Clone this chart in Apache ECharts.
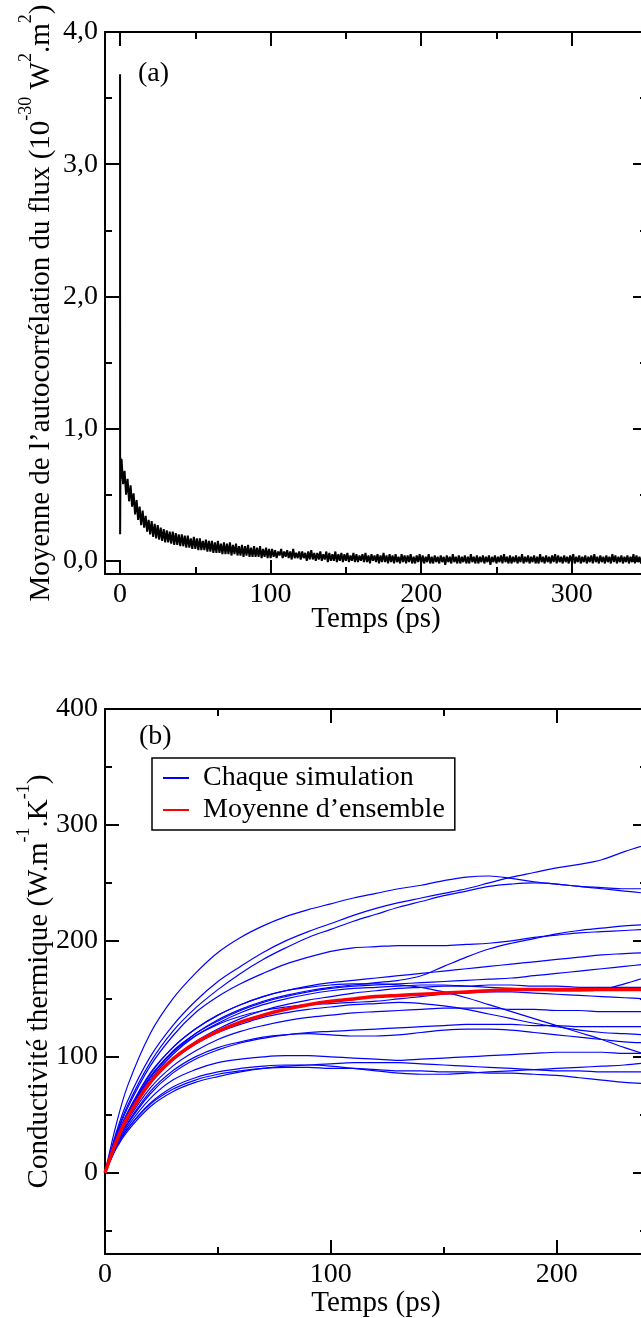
<!DOCTYPE html>
<html>
<head>
<meta charset="utf-8">
<script src="https://cdn.jsdelivr.net/npm/echarts@6/dist/echarts.min.js"></script>
<style>
  html, body { margin: 0; padding: 0; background: #fff; }
  #chart { width: 641px; height: 1318px; }
</style>
</head>
<body>
<div id="chart"></div>
<script>
// ---------- (a) heat-flux autocorrelation (10^-30 W^2.m^2) vs time (ps) ----------
// initial spike at t = 0, then one sample per ps
const acfHeadTime  = [0, 0.05, 0.3, 0.6];
const acfHeadValue = [3.68, 0.2, 0.78, 0.62];
const acfStartTime = 1;
const acfStep = 1;
const acfValues = [
  0.77, 0.58, 0.68, 0.50, 0.62, 0.45, 0.57, 0.41, 0.51, 0.35,
  0.46, 0.31, 0.41, 0.27, 0.38, 0.25, 0.34, 0.22, 0.31, 0.20,
  0.30, 0.18, 0.28, 0.17, 0.27, 0.16, 0.25, 0.15, 0.24, 0.14,
  0.23, 0.14, 0.22, 0.13, 0.22, 0.12, 0.21, 0.12, 0.20, 0.11,
  0.20, 0.11, 0.19, 0.10, 0.19, 0.10, 0.17, 0.09, 0.18, 0.09,
  0.17, 0.08, 0.17, 0.08, 0.15, 0.08, 0.16, 0.07, 0.15, 0.07,
  0.15, 0.06, 0.14, 0.06, 0.15, 0.06, 0.13, 0.05, 0.14, 0.05,
  0.13, 0.05, 0.14, 0.04, 0.12, 0.05, 0.13, 0.04, 0.11, 0.04,
  0.12, 0.03, 0.11, 0.04, 0.12, 0.03, 0.10, 0.03, 0.11, 0.03,
  0.10, 0.03, 0.11, 0.02, 0.09, 0.03, 0.10, 0.02, 0.09, 0.02,
  0.09, 0.03, 0.08, 0.02, 0.07, 0.04, 0.09, 0.02, 0.07, 0.03,
  0.08, 0.02, 0.07, 0.01, 0.09, 0.02, 0.06, 0.02, 0.07, 0.01,
  0.07, 0.02, 0.06, 0.00, 0.07, 0.01, 0.08, 0.01, 0.06, 0.00,
  0.06, 0.01, 0.07, 0.00, 0.05, 0.01, 0.07, -0.01, 0.06, 0.00,
  0.05, 0.00, 0.07, -0.01, 0.05, 0.00, 0.06, -0.01, 0.05, 0.00,
  0.06, -0.01, 0.04, 0.00, 0.06, -0.01, 0.05, -0.01, 0.04, 0.00,
  0.05, -0.01, 0.06, -0.01, 0.04, -0.02, 0.05, 0.00, 0.04, -0.01,
  0.05, -0.02, 0.04, -0.01, 0.06, -0.01, 0.04, -0.02, 0.05, -0.01,
  0.04, -0.02, 0.05, -0.01, 0.03, -0.02, 0.05, -0.01, 0.04, -0.02,
  0.04, -0.01, 0.05, -0.02, 0.03, -0.02, 0.04, -0.01, 0.05, -0.02,
  0.04, -0.02, 0.03, -0.01, 0.05, -0.02, 0.03, -0.02, 0.04, -0.01,
  0.03, -0.02, 0.04, -0.01, 0.03, -0.03, 0.04, -0.01, 0.03, -0.02,
  0.05, -0.01, 0.03, -0.02, 0.04, -0.02, 0.03, -0.01, 0.04, -0.02,
  0.03, -0.02, 0.05, -0.01, 0.03, -0.02, 0.04, -0.02, 0.03, -0.01,
  0.04, -0.02, 0.03, -0.01, 0.04, -0.03, 0.03, -0.01, 0.04, -0.02,
  0.03, -0.01, 0.04, -0.02, 0.05, -0.01, 0.03, -0.02, 0.04, -0.02,
  0.03, -0.01, 0.04, -0.02, 0.03, -0.01, 0.05, -0.02, 0.03, -0.01,
  0.04, -0.02, 0.03, -0.01, 0.04, -0.02, 0.03, -0.02, 0.05, -0.01,
  0.03, -0.02, 0.04, -0.01, 0.03, -0.02, 0.04, -0.01, 0.05, -0.02,
  0.04, -0.01, 0.03, -0.02, 0.04, -0.01, 0.03, -0.02, 0.04, -0.01,
  0.05, -0.02, 0.03, -0.01, 0.04, -0.02, 0.03, -0.01, 0.04, -0.02,
  0.03, -0.01, 0.04, -0.02, 0.05, -0.01, 0.03, -0.02, 0.04, -0.01,
  0.03, -0.02, 0.04, -0.01, 0.03, -0.02, 0.05, -0.01, 0.04, -0.02,
  0.03, -0.01, 0.04, -0.02, 0.03, -0.01, 0.04, -0.02, 0.03, -0.01,
  0.05, -0.02, 0.04, -0.01, 0.03, -0.02, 0.04, -0.01, 0.03, -0.02
];
const timeTicksA  = [0, 100, 200, 300];
const timeMinorA  = [50, 150, 250];
const acfTicks    = [0, 1, 2, 3, 4];
const acfMinor    = [0.5, 1.5, 2.5, 3.5];

// ---------- (b) thermal conductivity (W.m-1.K-1) vs time (ps) ----------
const simTime = [0, 5, 10, 20, 30, 40, 50, 60, 70, 80, 90, 100, 110, 120, 130,
                 140, 150, 160, 170, 180, 190, 200, 210, 220, 230, 240];
const simRuns = [
  [0, 42, 75, 120, 150, 172, 190, 203, 213, 221, 227, 232, 237, 241, 245, 248, 252, 255, 256, 254, 251, 249, 247, 245, 243, 241],
  [0, 35, 62, 100, 127, 148, 165, 178, 190, 200, 208, 215, 222, 228, 233, 237, 241, 245, 250, 255, 259, 263, 266, 270, 277, 283],
  [0, 33, 58, 95, 122, 142, 158, 172, 184, 194, 203, 210, 217, 223, 229, 234, 239, 243, 247, 249, 250, 249, 247, 246, 245, 245],
  [0, 28, 50, 82, 105, 120, 132, 141, 148, 153, 157, 160, 162, 164, 166, 170, 178, 186, 193, 198, 202, 206, 209, 211, 213, 214],
  [0, 32, 56, 92, 118, 138, 152, 163, 172, 180, 186, 191, 194, 195, 196, 196, 196, 197, 198, 200, 203, 205, 207, 208, 209, 210],
  [0, 30, 52, 85, 108, 124, 136, 145, 152, 157, 161, 164, 166, 168, 170, 172, 174, 176, 178, 180, 182, 184, 186, 188, 189, 190],
  [0, 29, 50, 82, 104, 120, 131, 140, 147, 152, 156, 159, 161, 162, 163, 164, 165, 166, 167, 168, 170, 172, 174, 176, 178, 180],
  [0, 28, 49, 80, 102, 118, 129, 138, 145, 150, 154, 157, 159, 160, 161, 162, 162, 161, 160, 159, 158, 157, 157, 158, 163, 169],
  [0, 27, 47, 77, 98, 113, 124, 133, 140, 145, 149, 152, 155, 157, 159, 160, 161, 161, 162, 162, 161, 161, 160, 160, 160, 160],
  [0, 30, 52, 86, 108, 124, 136, 145, 152, 157, 160, 162, 163, 163, 162, 160, 156, 151, 145, 139, 133, 127, 121, 115, 108, 102],
  [0, 27, 47, 77, 97, 111, 121, 128, 134, 138, 141, 143, 145, 146, 147, 146, 144, 141, 137, 133, 129, 126, 123, 121, 120, 119],
  [0, 26, 45, 73, 92, 105, 115, 122, 127, 131, 134, 136, 138, 139, 140, 141, 142, 142, 142, 141, 141, 140, 140, 139, 139, 139],
  [0, 24, 42, 68, 86, 98, 106, 112, 116, 119, 121, 122, 123, 124, 125, 126, 127, 128, 128, 128, 127, 127, 126, 126, 126, 126],
  [0, 25, 43, 70, 88, 100, 108, 113, 117, 119, 120, 119, 118, 118, 119, 121, 123, 124, 124, 123, 121, 119, 117, 115, 113, 112],
  [0, 23, 40, 64, 80, 89, 95, 98, 100, 101, 101, 100, 99, 98, 97, 98, 99, 100, 101, 102, 103, 104, 104, 104, 103, 103],
  [0, 22, 38, 60, 74, 82, 87, 90, 92, 93, 93, 92, 90, 88, 86, 85, 85, 86, 87, 88, 89, 90, 91, 92, 93, 95],
  [0, 21, 36, 57, 70, 78, 83, 87, 90, 92, 93, 94, 95, 95, 95, 94, 93, 92, 91, 90, 89, 88, 88, 87, 87, 87],
  [0, 22, 38, 59, 72, 80, 85, 88, 90, 91, 91, 90, 90, 89, 88, 88, 87, 87, 86, 86, 85, 84, 82, 80, 78, 77],
  [0, 29, 51, 83, 104, 118, 128, 135, 140, 143, 145, 146, 147, 148, 150, 152, 154, 155, 156, 156, 155, 154, 153, 152, 151, 150]
];
const ensembleMean = [0, 27, 48, 78, 98, 112, 122, 130, 136, 141, 145, 148, 150, 152, 153,
                      154, 155, 156, 157, 158, 158, 158, 158, 158, 158, 158];
const timeTicksB = [0, 100, 200];
const timeMinorB = [50, 150];
const kTicks = [0, 100, 200, 300, 400];
const kMinor = [-50, 50, 150, 250, 350];

const seriesNames = ['Chaque simulation', 'Moyenne d\u2019ensemble'];

// ---------- styling helpers ----------
const FONT = '"Liberation Serif", "Times New Roman", Times, serif';
const BLACK = '#000';
const frameLine = { color: BLACK, width: 2 };
const labelStyle = { color: BLACK, fontSize: 28, fontFamily: FONT };
const richTitle = {
  n: { fontSize: 29, fontFamily: FONT, color: BLACK, lineHeight: 30 },
  s: { fontSize: 18, fontFamily: FONT, color: BLACK, lineHeight: 18, padding: [0, 0, 30, 0] }
};
const plainTitle = { fontSize: 29, fontFamily: FONT, color: BLACK, lineHeight: 30 };

// four axes per side pair: labelled major, minor ticks, mirrored major, mirrored minor
function frameAxes(dim, grid, min, max, major, minor, fmt, name, nameGap, nameStyle) {
  const near = dim === 'x' ? 'bottom' : 'left';
  const far = dim === 'x' ? 'top' : 'right';
  const base = (position, ticks, len, showLine) => ({
    type: 'value', gridIndex: grid, position, min, max,
    axisLine: { show: showLine, onZero: false, lineStyle: frameLine },
    axisTick: { show: true, inside: true, length: len, lineStyle: frameLine, customValues: ticks },
    axisLabel: { show: false },
    splitLine: { show: false },
    minorTick: { show: false }
  });
  const main = base(near, major, 14, true);
  main.axisLabel = Object.assign({ show: true, customValues: major, formatter: fmt, margin: 7 }, labelStyle);
  main.name = name;
  main.nameLocation = 'middle';
  main.nameGap = nameGap;
  main.nameMoveOverlap = false;
  main.nameTextStyle = nameStyle;
  if (dim === 'y') main.nameRotate = 90;
  return [main, base(near, minor, 7, false), base(far, major, 14, true), base(far, minor, 7, false)];
}

const comma = v => v.toFixed(1).replace('.', ',');
const whole = v => String(Math.round(v));

const xAxes = [
  ...frameAxes('x', 0, -10, 350, timeTicksA, timeMinorA, whole, 'Temps (ps)', 30, plainTitle),
  ...frameAxes('x', 1, 0, 240, timeTicksB, timeMinorB, whole, 'Temps (ps)', 34, plainTitle)
];
const yAxes = [
  ...frameAxes('y', 0, -0.1, 4.0, acfTicks, acfMinor, comma,
    '{n|Moyenne de l\u2019autocorrélation du flux (10}{s|-30}{n| W}{s|2}{n|.m}{s|2}{n|)}', 49,
    { rich: richTitle }),
  ...frameAxes('y', 1, -70, 400, kTicks, kMinor, whole,
    '{n|Conductivité thermique (W.m}{s|-1}{n|.K}{s|-1}{n|)}', 51,
    { rich: richTitle })
];

// ---------- series ----------
const acfData = acfHeadTime.map((t, i) => [t, acfHeadValue[i]])
  .concat(acfValues.map((v, i) => [acfStartTime + i * acfStep, v]));

const series = [{
  type: 'line', xAxisIndex: 0, yAxisIndex: 0, data: acfData,
  symbol: 'none', lineStyle: { color: BLACK, width: 2 }, silent: true
}];
simRuns.forEach(run => {
  series.push({
    name: seriesNames[0], type: 'line', xAxisIndex: 4, yAxisIndex: 4,
    data: simTime.map((t, i) => [t, run[i]]),
    smooth: 0.35, symbol: 'none', color: '#0000ff',
    lineStyle: { color: '#0000ff', width: 1.2 }, silent: true
  });
});
series.push({
  name: seriesNames[1], type: 'line', xAxisIndex: 4, yAxisIndex: 4,
  data: simTime.map((t, i) => [t, ensembleMean[i]]),
  smooth: 0.35, symbol: 'none', color: '#ff0000',
  lineStyle: { color: '#ff0000', width: 3.5 }, silent: true, z: 5
});

const chart = echarts.init(document.getElementById('chart'), null, { renderer: 'canvas' });
chart.setOption({
  animation: false,
  backgroundColor: '#fff',
  grid: [
    { left: 105, top: 32, width: 542, height: 542, outerBoundsMode: 'none' },
    { left: 105, top: 709, width: 542, height: 545, outerBoundsMode: 'none' }
  ],
  xAxis: xAxes,
  yAxis: yAxes,
  legend: {
    data: seriesNames, orient: 'vertical', left: 152, top: 758,
    padding: [6, 10, 6, 10], itemGap: 4, itemWidth: 26, itemHeight: 4,
    itemStyle: { opacity: 0 },
    borderColor: BLACK, borderWidth: 1.5, backgroundColor: '#fff', selectedMode: false,
    textStyle: { color: BLACK, fontSize: 28, fontFamily: FONT, lineHeight: 28, padding: [0, 0, 0, 9] }
  },
  graphic: [
    { type: 'text', left: 138, top: 60, style: { text: '(a)', font: '28px ' + FONT, fill: BLACK } },
    { type: 'text', left: 139, top: 723, style: { text: '(b)', font: '28px ' + FONT, fill: BLACK } }
  ],
  series
});
</script>
</body>
</html>
